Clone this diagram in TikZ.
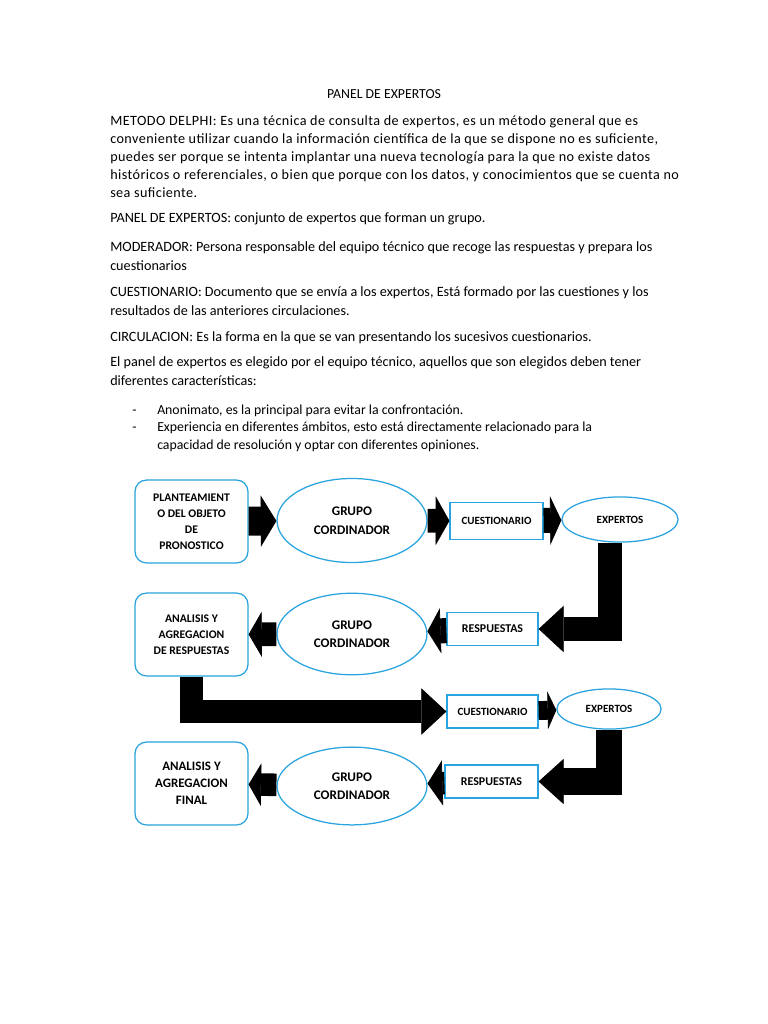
\documentclass[tikz,border=0pt]{standalone}
\usepackage{fontspec}
\setmainfont{Carlito}
\usetikzlibrary{shapes.geometric,arrows.meta}
\definecolor{azul}{RGB}{41,164,222}

\begin{document}
\begin{tikzpicture}[x=0.797pt,y=-0.797pt,
    txt/.style={anchor=base west,inner sep=0pt,font=\fontsize{11.3}{13}\selectfont},
    txta/.style={txt,font=\fontsize{11.3}{13}\selectfont\addfontfeature{LetterSpace=3}},
    caja/.style={draw=azul,line width=1pt,fill=white,rounded corners=9pt,minimum width=90pt,minimum height=66pt,align=center,inner sep=1pt},
    elip/.style={draw=azul,line width=1pt,fill=white,ellipse,inner sep=0pt,align=center},
    rect/.style={draw=azul,line width=1pt,fill=white,inner sep=0pt},
    flecha/.style n args={3}{line width=#1,-{Triangle[length=#3,width=#2,line width=0.6pt]}}]
    \useasboundingbox[fill=white] (0,0) rectangle (768,1024);

    \node[anchor=base,inner sep=0pt,font=\fontsize{11}{13}\selectfont] (titulo) at (384,98) {PANEL DE EXPERTOS};
    \node[txta] (l1) at (110,125) {METODO DELPHI: Es una técnica de consulta de expertos, es un método general que es};
    \node[txta] (l2) at (110,143) {conveniente utilizar cuando la información científica de la que se dispone no es suficiente,};
    \node[txta] (l3) at (110,161) {puedes ser porque se intenta implantar una nueva tecnología para la que no existe datos};
    \node[txta] (l4) at (110,179) {históricos o referenciales, o bien que porque con los datos, y conocimientos que se cuenta no};
    \node[txta] (l5) at (110,197) {sea suficiente.};
    \node[txt] (l6) at (110,222) {PANEL DE EXPERTOS: conjunto de expertos que forman un grupo.};
    \node[txt] (l7) at (110,251) {MODERADOR: Persona responsable del equipo técnico que recoge las respuestas y prepara los};
    \node[txt] (l8) at (110,270) {cuestionarios};
    \node[txt] (l9) at (110,296) {CUESTIONARIO: Documento que se envía a los expertos, Está formado por las cuestiones y los};
    \node[txt] (l10) at (110,315) {resultados de las anteriores circulaciones.};
    \node[txt] (l11) at (110,341) {CIRCULACION: Es la forma en la que se van presentando los sucesivos cuestionarios.};
    \node[txt] (l12) at (110,366) {El panel de expertos es elegido por el equipo técnico, aquellos que son elegidos deben tener};
    \node[txt] (l13) at (110,385) {diferentes características:};
    \node[txt,font=\fontsize{11}{13}\selectfont] (g1) at (132,414) {-};
    \node[txt,font=\fontsize{11}{13}\selectfont] (l14) at (157,414) {Anonimato, es la principal para evitar la confrontación.};
    \node[txt,font=\fontsize{11}{13}\selectfont] (g2) at (132,431) {-};
    \node[txt,font=\fontsize{11}{13}\selectfont] (l15) at (157,431) {Experiencia en diferentes ámbitos, esto está directamente relacionado para la};
    \node[txt,font=\fontsize{11}{13}\selectfont] (l16) at (157,449) {capacidad de resolución y optar con diferentes opiniones.};

    \node[caja,font=\bfseries\fontsize{9.3}{12.8}\selectfont] (plan) at (191.5,521.5) {PLANTEAMIENT\\O DEL OBJETO\\DE\\PRONOSTICO};
    \node[elip,minimum width=119.5pt,minimum height=67pt,font=\bfseries\fontsize{10.5}{15}\selectfont] (grupo1) at (352,520.5) {GRUPO\\CORDINADOR};
    \node[rect,minimum width=74pt,minimum height=30pt,font=\bfseries\fontsize{8.8}{10}\selectfont] (cues1) at (496.5,521) {CUESTIONARIO};
    \node[elip,minimum width=92.5pt,minimum height=36pt,font=\bfseries\fontsize{8.8}{10}\selectfont] (exp1) at (620,519.5) {EXPERTOS};

    \node[rect,minimum width=72.5pt,minimum height=26.3pt,font=\bfseries\fontsize{9.5}{10}\selectfont] (resp1) at (492.5,629) {RESPUESTAS};
    \node[elip,minimum width=119.5pt,minimum height=65pt,font=\bfseries\fontsize{10.5}{14}\selectfont] (grupo2) at (352,634) {GRUPO\\CORDINADOR};
    \node[caja,font=\bfseries\fontsize{9.3}{12.8}\selectfont] (anal1) at (191.5,634.5) {ANALISIS Y\\AGREGACION\\DE RESPUESTAS};

    \node[rect,minimum width=72.5pt,minimum height=26.3pt,font=\bfseries\fontsize{8.8}{10}\selectfont] (cues2) at (492.5,711.5) {CUESTIONARIO};
    \node[elip,minimum width=83pt,minimum height=32pt,font=\bfseries\fontsize{8.8}{10}\selectfont] (exp2) at (609,709) {EXPERTOS};

    \node[rect,minimum width=74pt,minimum height=26.3pt,font=\bfseries\fontsize{9.5}{10}\selectfont] (resp2) at (491.5,781.5) {RESPUESTAS};
    \node[elip,minimum width=119.5pt,minimum height=62pt,font=\bfseries\fontsize{10.5}{14.5}\selectfont] (grupo3) at (352,786) {GRUPO\\CORDINADOR};
    \node[caja,font=\bfseries\fontsize{10.3}{13.5}\selectfont] (anal2) at (191.5,783.5) {ANALISIS Y\\AGREGACION\\FINAL};

    \draw[flecha={23pt}{41pt}{12.5pt}] (plan) -- (grupo1);
    \draw[flecha={19pt}{39pt}{11pt}] (grupo1) -- (cues1);
    \draw[flecha={20pt}{39pt}{9pt}] (cues1) -- (exp1);
    \draw[flecha={19pt}{37pt}{20pt}] ([xshift=-8pt]exp1.south) |- (resp1);
    \draw[flecha={20pt}{36pt}{10.5pt}] (resp1) -- (grupo2);
    \draw[flecha={19pt}{36pt}{10.5pt}] (grupo2) -- (anal1);
    \draw[flecha={19pt}{37pt}{20pt}] (anal1) |- (cues2);
    \draw[flecha={15pt}{30pt}{7pt}] (cues2) -- (exp2);
    \draw[flecha={21pt}{36pt}{20pt}] (exp2) |- (resp2);
    \draw[flecha={18pt}{36pt}{12pt}] (resp2) -- (grupo3);
    \draw[flecha={18pt}{34pt}{10pt}] (grupo3) -- (anal2);
\end{tikzpicture}
\end{document}
